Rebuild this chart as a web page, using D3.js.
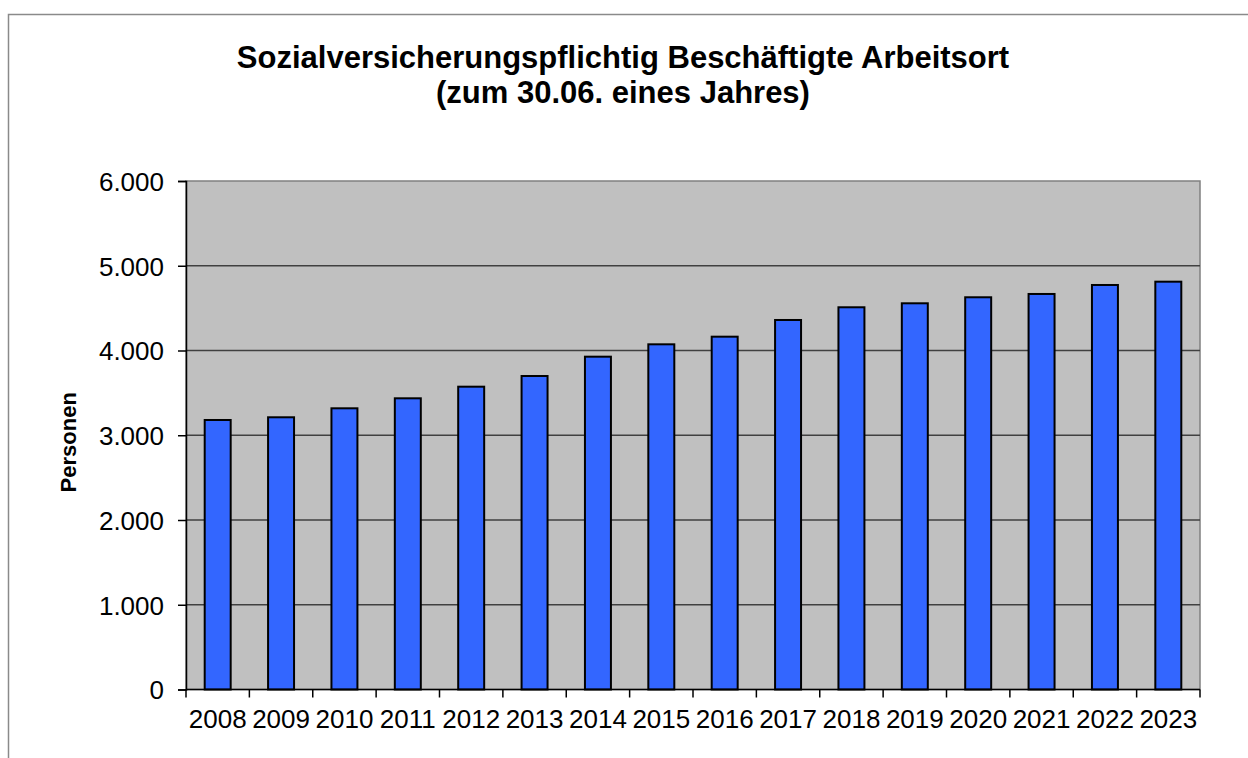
<!DOCTYPE html>
<html><head><meta charset="utf-8">
<script src="https://cdn.jsdelivr.net/npm/d3@7"></script>
<style>body{margin:0;background:#fff}svg{display:block}</style>
</head><body>
<svg id="c" width="1248" height="758"></svg>
<script>
const years = ["2008","2009","2010","2011","2012","2013","2014","2015","2016","2017","2018","2019","2020","2021","2022","2023"];
const persons = [3180,3212,3318,3436,3573,3699,3927,4073,4163,4360,4510,4557,4628,4667,4773,4812];
const yTicks = [0,1000,2000,3000,4000,5000,6000];
const titleLines = ["Sozialversicherungspflichtig Beschäftigte Arbeitsort","(zum 30.06. eines Jahres)"];
const yTitle = "Personen";

const svg = d3.select("#c");
const font = "'Liberation Sans', Arial, sans-serif";
const L = 186, R = 1200, T = 181, B = 689.5;

// outer frame (top and left edges visible)
svg.append("path").attr("d","M8.5,770 L8.5,14.5 L1260,14.5")
  .attr("fill","none").attr("stroke","#8a8a8a").attr("stroke-width",1.5);

const x = d3.scaleBand().domain(years).range([L,R]).paddingInner(0.59).paddingOuter(0.295);
const xb = d3.scaleBand().domain(years).range([L,R]);
const y = d3.scaleLinear().domain([0,6000]).range([B,T]);

svg.append("rect").attr("x",L).attr("y",T).attr("width",R-L).attr("height",B-T)
  .attr("fill","#c0c0c0").attr("stroke","#808080").attr("stroke-width",1.5);

// gridlines
svg.append("g").selectAll("line").data(yTicks.filter(d=>d>0&&d<6000)).join("line")
  .attr("x1",L).attr("x2",R).attr("y1",d=>y(d)).attr("y2",d=>y(d))
  .attr("stroke","#404040").attr("stroke-width",1.5);

// bars
svg.append("g").selectAll("rect").data(years).join("rect")
  .attr("x",d=>x(d)).attr("width",x.bandwidth())
  .attr("y",(d,i)=>y(persons[i])).attr("height",(d,i)=>B-y(persons[i]))
  .attr("fill","#3366ff").attr("stroke","#000").attr("stroke-width",2);

// y axis
const fmt = d3.formatLocale({decimal:",",thousands:".",grouping:[3],currency:["","€"]}).format(",");
const ya = svg.append("g").attr("transform",`translate(${L},0)`)
  .call(d3.axisLeft(y).tickValues(yTicks).tickFormat(fmt).tickSize(8).tickPadding(14));
ya.select(".domain").attr("stroke","#000").attr("stroke-width",1.5);
ya.selectAll(".tick line").attr("stroke","#000").attr("stroke-width",1.5);
ya.selectAll("text").attr("font-family",font).attr("font-size",26).attr("fill","#000").attr("dy","0.36em");

// x axis: ticks between categories
const xa = svg.append("g").attr("transform",`translate(0,${B})`);
xa.append("line").attr("x1",L).attr("x2",R).attr("stroke","#000").attr("stroke-width",1.5);
xa.selectAll("line.t").data(years.concat(["end"])).join("line").attr("class","t")
  .attr("x1",(d,i)=> i<years.length ? xb(d) : R).attr("x2",(d,i)=> i<years.length ? xb(d) : R)
  .attr("y1",0).attr("y2",8).attr("stroke","#000").attr("stroke-width",1.5);
xa.selectAll("text").data(years).join("text")
  .attr("x",d=>xb(d)+xb.bandwidth()/2).attr("y",38)
  .attr("text-anchor","middle").attr("font-family",font).attr("font-size",26).attr("fill","#000")
  .text(d=>d);

// titles
svg.selectAll("text.title").data(titleLines).join("text").attr("class","title")
  .attr("x",623).attr("y",(d,i)=>68+i*35).attr("text-anchor","middle")
  .attr("font-family",font).attr("font-weight","bold").attr("font-size",31).attr("fill","#000")
  .text(d=>d);

svg.append("text").attr("transform",`translate(76,${(T+B)/2+7}) rotate(-90)`)
  .attr("text-anchor","middle").attr("font-family",font).attr("font-weight","bold")
  .attr("font-size",22).attr("fill","#000").text(yTitle);
</script>
</body></html>
